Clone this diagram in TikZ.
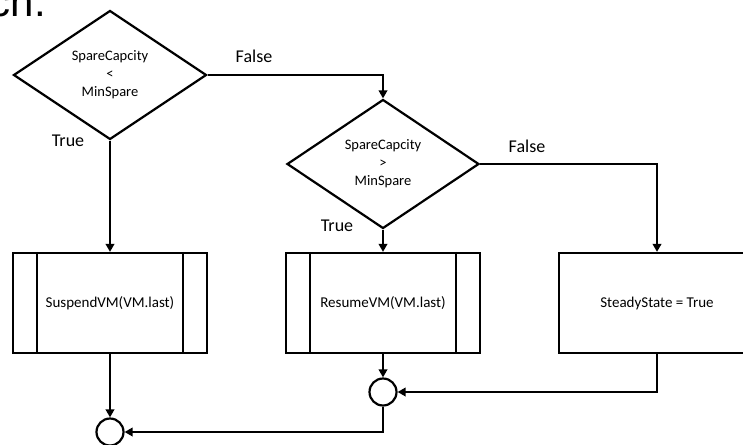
\documentclass[tikz,border=0pt]{standalone}
\usepackage{fontspec}
\setmainfont{Carlito}
\newfontfamily\headfont{Liberation Sans}
\usetikzlibrary{shapes.geometric,arrows.meta}
\tikzset{
  flow/.style={line width=2.2pt},
  arr/.style={flow,-{Triangle[width=8.5pt,length=8pt]}},
  decision/.style={diamond,draw,flow,inner sep=0pt,align=center,
     font=\fontsize{14.5}{18}\selectfont},
  procbox/.style={rectangle,draw,flow,minimum width=194pt,minimum height=100pt,
     inner sep=0pt,font=\fontsize{15}{18}\selectfont},
  junction/.style={circle,draw,flow,minimum size=27pt,inner sep=0pt},
  lbl/.style={font=\fontsize{18}{21}\selectfont,inner sep=0pt}
}
\begin{document}
\begin{tikzpicture}[x=1pt,y=-1pt]
\useasboundingbox (0,0) rectangle (743,444);
\fill[white] (0,0) rectangle (743,444);
% cut-off heading text
\node[anchor=base east,inner sep=0pt,font=\headfont\fontsize{42}{46}\selectfont] (head) at (46,17) {ch.};
% decisions
\node[decision,minimum width=193pt,minimum height=129pt] (d1) at (110,75) {SpareCapcity\\<\\MinSpare};
\node[decision,minimum width=192pt,minimum height=129pt] (d2) at (383,164) {SpareCapcity\\>\\MinSpare};
% process boxes
\node[procbox] (s1) at (110,303) {SuspendVM(VM.last)};
\node[procbox] (r1) at (383,303) {ResumeVM(VM.last)};
\node[procbox,minimum width=196pt] (st) at (657,303) {SteadyState = True};
\draw[flow] ([xshift=25pt]s1.north west) -- ([xshift=25pt]s1.south west);
\draw[flow] ([xshift=-25pt]s1.north east) -- ([xshift=-25pt]s1.south east);
\draw[flow] ([xshift=25pt]r1.north west) -- ([xshift=25pt]r1.south west);
\draw[flow] ([xshift=-25pt]r1.north east) -- ([xshift=-25pt]r1.south east);
% junctions
\node[junction] (c2) at (383,392) {};
\node[junction] (c1) at (110,432) {};
% labels
\node[lbl] (t1) at (68,141) {True};
\node[lbl] (f1) at (254,56) {False};
\node[lbl] (t2) at (337,226) {True};
\node[lbl] (f2) at (527,146) {False};
% connectors
\draw[arr] (d1.east) -| (d2.north);
\draw[arr] (d1.south) -- (s1.north);
\draw[arr] (d2.south) -- (r1.north);
\draw[arr] (d2.east) -| (st.north);
\draw[arr] (s1.south) -- (c1.north);
\draw[arr] (r1.south) -- (c2.north);
\draw[arr] (st.south) |- (c2.east);
\draw[arr] (c2.south) |- (c1.east);
\end{tikzpicture}
\end{document}
